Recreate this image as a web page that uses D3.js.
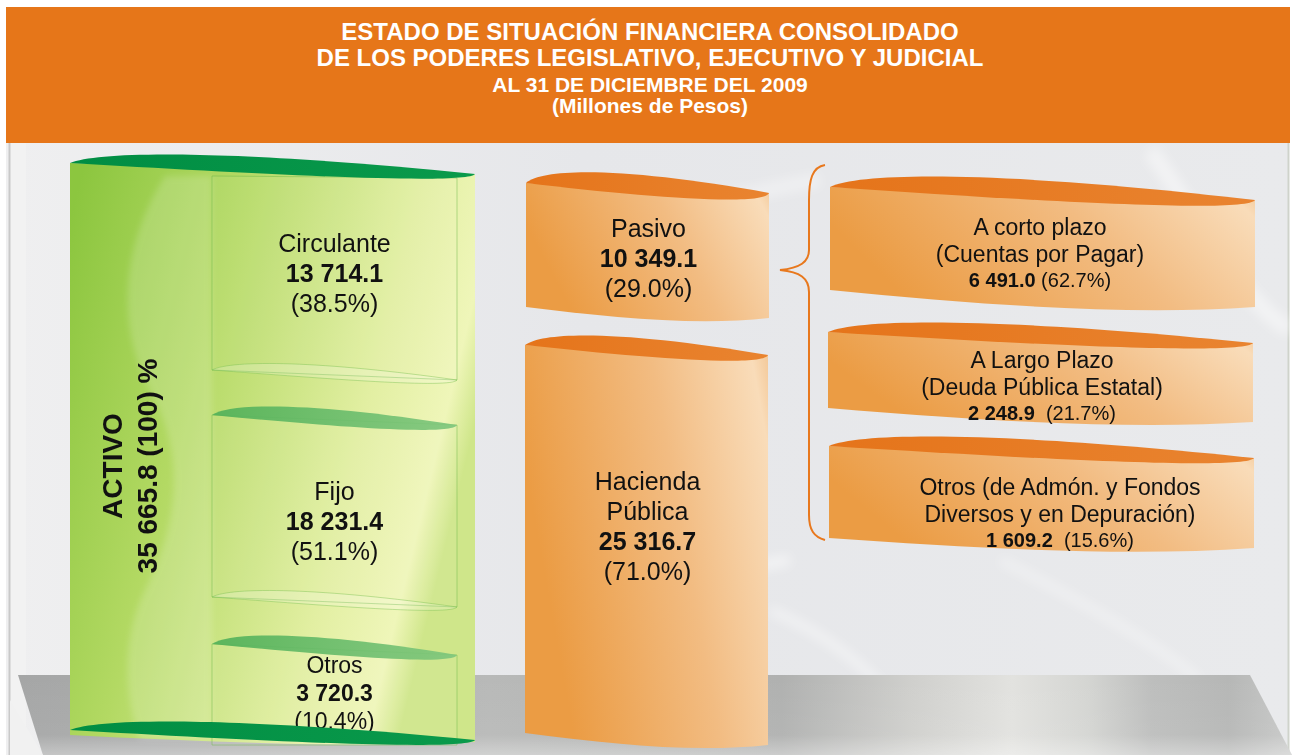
<!DOCTYPE html>
<html>
<head>
<meta charset="utf-8">
<script src="https://cdn.jsdelivr.net/npm/d3@7"></script>
<style>
  body { margin: 0; background: #fff; }
  svg { display: block; font-family: "Liberation Sans", Arial, sans-serif; }
</style>
</head>
<body>
<svg id="chart" width="1293" height="755"></svg>
<script>
// ---- data ----
var titleLines = ["ESTADO DE SITUACIÓN FINANCIERA CONSOLIDADO",
                  "DE LOS PODERES LEGISLATIVO, EJECUTIVO Y JUDICIAL",
                  "AL 31 DE DICIEMBRE DEL 2009",
                  "(Millones de Pesos)"];

var activoName = "ACTIVO";
var activoTotal = 35665.8;
var activoTotalPct = 100;

var activoLabels = ["Circulante", "Fijo", "Otros"];
var activoValues = [13714.1, 18231.4, 3720.3];
var activoShares = [38.5, 51.1, 10.4];

var pasivoLabels = [["Pasivo"], ["Hacienda", "Pública"]];
var pasivoValues = [10349.1, 25316.7];
var pasivoShares = [29.0, 71.0];

var deudaLabels = [["A corto plazo", "(Cuentas por Pagar)"],
                   ["A Largo Plazo", "(Deuda Pública Estatal)"],
                   ["Otros (de Admón. y Fondos", "Diversos y en Depuración)"]];
var deudaValues = [6491.0, 2248.9, 1609.2];
var deudaShares = [62.7, 21.7, 15.6];
var deudaGap = [" ", "  ", "  "];

// ---- layout (positions only) ----
var W = 1293, H = 755;
var activoBox = {x0: 70, x1: 475, yL: 163, yR: 174, lift: 9, yLb: 735, yRb: 742, sag: 6};
var activoBottom = {yL: 730, yR: 740, lift: 9};
var innerX = [212, 457];
var innerTop = [[176, 178], [415, 425], [644, 655]];
var innerBottom = [[370, 380], [597, 607], null];
var innerTextY = [252, 500, 673];
var innerFont = [25, 25, 23];
var innerStep = [30, 30, 28];

var pasivoBoxes = [
  {x0: 526, x1: 769, yL: 183, yR: 193, lift: 11, yLb: 307, yRb: 318, sag: 8},
  {x0: 525, x1: 768, yL: 345, yR: 355, lift: 10, yLb: 733, yRb: 745, sag: 8}
];
var pasivoTextY = [237, 490];

var deudaBoxes = [
  {x0: 830, x1: 1255, yL: 187, yR: 200, lift: 11, yLb: 290, yRb: 307, sag: 9},
  {x0: 828, x1: 1253, yL: 332, yR: 343, lift: 10, yLb: 408, yRb: 422, sag: 8},
  {x0: 829, x1: 1254, yL: 446, yR: 458, lift: 10, yLb: 538, yRb: 548, sag: 9}
];
var deudaTextX = [1040, 1042, 1060];
var deudaTextY = [235, 368, 495];

var loc = d3.formatLocale({decimal: ".", thousands: " ", grouping: [3], currency: ["", ""]});
var fmtNum = loc.format(",.1f");
var fmtPct = d3.format(".1f");

var svg = d3.select("#chart");
var defs = svg.append("defs");

function grad(id, stops, x1, y1, x2, y2) {
  var g = defs.append("linearGradient").attr("id", id)
      .attr("x1", x1 || "0%").attr("y1", y1 || "0%")
      .attr("x2", x2 || "100%").attr("y2", y2 || "0%");
  stops.forEach(function(s) {
    g.append("stop").attr("offset", s[0]).attr("stop-color", s[1])
      .attr("stop-opacity", s[2] == null ? 1 : s[2]);
  });
  return g;
}

grad("bg", [["0%", "#efeff0"], ["45%", "#e6e7ea"], ["100%", "#e9eaec"]]);
grad("greenBody", [["0%", "#8cc63f"], ["35%", "#b3d963"], ["75%", "#e2efa2"], ["93%", "#eff6b9"], ["100%", "#cfe68a"]], "0%", "10%", "100%", "45%");
grad("greenCap", [["0%", "#008d43"], ["100%", "#0a9a4b"]]);
grad("midGreenCap", [["0%", "#52b159"], ["100%", "#80c77d"]]);
grad("orangeBody", [["0%", "#eb9c44"], ["55%", "#f2bc82"], ["93%", "#f9dcb9"], ["100%", "#f3c796"]], "0%", "30%", "100%", "0%");
grad("orangeCap", [["0%", "#e5741a"], ["100%", "#e98430"]]);
grad("platform", [["0%", "#a5a6a6"], ["37%", "#b8b9b8"], ["60%", "#b0b1b0"], ["70%", "#cfcfcc"], ["78%", "#e2e2df"], ["84%", "#d4d5d2"], ["89%", "#bdbebd"], ["95%", "#b6b7b6"], ["100%", "#c8c9c8"]]);
grad("platformV", [["0%", "#fff", 0], ["75%", "#fff", 0.05], ["100%", "#fff", 0.35]], "0%", "0%", "0%", "100%");

defs.append("filter").attr("id", "blur6").attr("x", "-20%").attr("y", "-20%").attr("width", "140%").attr("height", "140%")
  .append("feGaussianBlur").attr("stdDeviation", 6);
defs.append("filter").attr("id", "blur3").attr("x", "-20%").attr("y", "-20%").attr("width", "140%").attr("height", "140%")
  .append("feGaussianBlur").attr("stdDeviation", 3);

// ---- shapes ----
function capPath(x0, x1, yL, yR, lift) {
  var w = x1 - x0, p = d3.path();
  p.moveTo(x0, yL);
  p.bezierCurveTo(x0 + 0.08 * w, yL - 1.5 * lift, x0 + 0.45 * w, yL - 1.3 * lift, x1, yR);
  p.bezierCurveTo(x1 - 0.02 * w, yR + 1.25 * lift, x0 + 0.47 * w, yL + 1.25 * lift, x0, yL);
  p.closePath();
  return p.toString();
}

function bodyPath(c) {
  var w = c.x1 - c.x0, p = d3.path();
  p.moveTo(c.x0, c.yL);
  p.lineTo(c.x0, c.yLb);
  p.bezierCurveTo(c.x0 + 0.35 * w, c.yLb + 0.6 * (c.yRb - c.yLb) + c.sag * 0.5,
                  c.x1 - 0.3 * w, c.yRb + c.sag, c.x1, c.yRb);
  p.lineTo(c.x1, c.yR);
  p.closePath();
  return p.toString();
}

function cylinder(g, c, bodyFill, capFill) {
  g.append("path").attr("d", bodyPath(c)).attr("fill", bodyFill);
  g.append("path").attr("d", capPath(c.x0, c.x1, c.yL, c.yR, c.lift)).attr("fill", capFill);
}

// ---- background ----
svg.append("rect").attr("width", W).attr("height", H).attr("fill", "#fff");
svg.append("rect").attr("x", 6).attr("y", 143).attr("width", 1282).attr("height", H - 143).attr("fill", "url(#bg)");
svg.append("rect").attr("x", 10).attr("y", 143).attr("width", 16).attr("height", H - 143).attr("fill", "#f3f3f3").attr("opacity", 0.8);
svg.append("line").attr("x1", 9.5).attr("x2", 9.5).attr("y1", 143).attr("y2", H).attr("stroke", "#c9c9c9").attr("stroke-width", 2);
svg.append("line").attr("x1", 1288.5).attr("x2", 1288.5).attr("y1", 143).attr("y2", H).attr("stroke", "#cfd3cb").attr("stroke-width", 2);

// soft light swooshes
var sw = svg.append("g").attr("filter", "url(#blur6)").attr("fill", "none").attr("stroke", "#fff");
sw.append("path").attr("d", "M480,745 C560,640 660,580 790,560").attr("stroke-width", 10).attr("opacity", 0.55);
sw.append("path").attr("d", "M770,610 C840,640 900,690 930,760").attr("stroke-width", 8).attr("opacity", 0.5);
sw.append("path").attr("d", "M560,300 C620,230 700,200 820,180").attr("stroke-width", 14).attr("opacity", 0.35);
sw.append("path").attr("d", "M1150,150 C1200,220 1240,300 1290,330").attr("stroke-width", 16).attr("opacity", 0.45);
sw.append("path").attr("d", "M1000,560 C1080,600 1150,640 1200,680").attr("stroke-width", 8).attr("opacity", 0.4);

// platform
svg.append("path").attr("d", "M18,675 L1250,675 L1292,755 L43,755 Z").attr("fill", "url(#platform)");
svg.append("path").attr("d", "M18,675 L1250,675 L1292,755 L43,755 Z").attr("fill", "url(#platformV)");
svg.append("path").attr("d", "M10,700 L43,755 L10,755 Z").attr("fill", "#f1f1f1");

// ---- header ----
svg.append("rect").attr("x", 6).attr("y", 7).attr("width", 1284).attr("height", 136).attr("fill", "#e67619");
var titleY = [40, 66, 92, 113];
var titleSize = [24, 24, 21, 21];
svg.append("g").selectAll("text").data(titleLines).join("text")
  .attr("x", 650).attr("y", function(d, i) { return titleY[i]; })
  .attr("text-anchor", "middle").attr("fill", "#fff").attr("font-weight", "bold")
  .attr("font-size", function(d, i) { return titleSize[i]; })
  .text(function(d) { return d; });

// ---- ACTIVO cylinder ----
var ga = svg.append("g");
ga.append("path").attr("d", bodyPath(activoBox)).attr("fill", "url(#greenBody)");
// wavy highlight
ga.append("path")
  .attr("d", "M165,176 C118,250 118,330 150,390 C185,455 180,520 145,590 C120,640 125,700 140,740 L212,740 L212,176 Z")
  .attr("fill", "#fff").attr("opacity", 0.16).attr("filter", "url(#blur3)");

innerTop.forEach(function(t, i) {
  var b = innerBottom[i];
  var yb = b ? b : [745, 745];
  ga.append("path")
    .attr("d", "M" + innerX[0] + "," + t[0] + "L" + innerX[0] + "," + yb[0] + "L" + innerX[1] + "," + yb[1] + "L" + innerX[1] + "," + t[1] + "Z")
    .attr("fill", "#fff").attr("fill-opacity", 0.06)
    .attr("stroke", "#6fb84a").attr("stroke-opacity", 0.55).attr("stroke-width", 0.9);
  if (i > 0) {
    ga.append("path").attr("d", capPath(innerX[0], innerX[1], t[0], t[1], 9))
      .attr("fill", "url(#midGreenCap)").attr("opacity", 0.92);
  }
  if (b) {
    ga.append("path").attr("d", capPath(innerX[0], innerX[1], b[0], b[1], 7))
      .attr("fill", "#fff").attr("fill-opacity", 0.2)
      .attr("stroke", "#7cc052").attr("stroke-opacity", 0.5).attr("stroke-width", 0.9);
  }
});

// inner labels
var cx = (innerX[0] + innerX[1]) / 2;
activoLabels.forEach(function(lab, i) {
  var t = ga.append("text").attr("text-anchor", "middle").attr("font-size", innerFont[i]).attr("fill", "#111");
  t.append("tspan").attr("x", cx).attr("y", innerTextY[i]).text(lab);
  t.append("tspan").attr("x", cx).attr("y", innerTextY[i] + innerStep[i]).attr("font-weight", "bold").text(fmtNum(activoValues[i]));
  t.append("tspan").attr("x", cx).attr("y", innerTextY[i] + 2 * innerStep[i]).text("(" + fmtPct(activoShares[i]) + "%)");
});

ga.append("path").attr("d", capPath(activoBox.x0, activoBox.x1, activoBox.yL, activoBox.yR, activoBox.lift)).attr("fill", "url(#greenCap)");
ga.append("path").attr("d", capPath(activoBox.x0, activoBox.x1, activoBottom.yL, activoBottom.yR, activoBottom.lift)).attr("fill", "url(#greenCap)");

// rotated total
var rt = ga.append("text").attr("transform", "translate(0,466) rotate(-90)")
  .attr("text-anchor", "middle").attr("font-weight", "bold").attr("font-size", 28).attr("fill", "#111");
rt.append("tspan").attr("x", 0).attr("y", 122).text(activoName);
rt.append("tspan").attr("x", 0).attr("y", 157).text(fmtNum(activoTotal) + " (" + activoTotalPct + ") %");

// ---- PASIVO / HACIENDA ----
var gp = svg.append("g");
pasivoBoxes.forEach(function(c, i) {
  cylinder(gp, c, "url(#orangeBody)", "url(#orangeCap)");
  var x = (c.x0 + c.x1) / 2 + 1;
  var lines = pasivoLabels[i];
  var t = gp.append("text").attr("text-anchor", "middle").attr("font-size", 25).attr("fill", "#111");
  lines.forEach(function(l, j) {
    t.append("tspan").attr("x", x).attr("y", pasivoTextY[i] + j * 30).text(l);
  });
  var y0 = pasivoTextY[i] + lines.length * 30;
  t.append("tspan").attr("x", x).attr("y", y0).attr("font-weight", "bold").text(fmtNum(pasivoValues[i]));
  t.append("tspan").attr("x", x).attr("y", y0 + 30).text("(" + fmtPct(pasivoShares[i]) + "%)");
});

// brace
var br = d3.path();
br.moveTo(825, 165);
br.bezierCurveTo(812, 167, 809, 180, 809, 200);
br.lineTo(809, 250);
br.bezierCurveTo(809, 262, 800, 268, 780, 270);
br.bezierCurveTo(800, 272, 809, 278, 809, 292);
br.lineTo(809, 515);
br.bezierCurveTo(809, 530, 814, 537, 825, 540);
svg.append("path").attr("d", br.toString()).attr("fill", "none").attr("stroke", "#e8781d").attr("stroke-width", 2);

// ---- deuda boxes ----
var gd = svg.append("g");
deudaBoxes.forEach(function(c, i) {
  cylinder(gd, c, "url(#orangeBody)", "url(#orangeCap)");
  var x = deudaTextX[i], y = deudaTextY[i];
  var t = gd.append("text").attr("text-anchor", "middle").attr("font-size", 23).attr("fill", "#111")
    .style("white-space", "pre");
  deudaLabels[i].forEach(function(l, j) {
    t.append("tspan").attr("x", x).attr("y", y + j * 27).text(l);
  });
  var v = gd.append("text").attr("text-anchor", "middle").attr("font-size", 20).attr("fill", "#111")
    .attr("x", x).attr("y", y + 52).style("white-space", "pre");
  v.append("tspan").attr("font-weight", "bold").text(fmtNum(deudaValues[i]));
  v.append("tspan").text(deudaGap[i] + "(" + fmtPct(deudaShares[i]) + "%)");
});
</script>
</body>
</html>
